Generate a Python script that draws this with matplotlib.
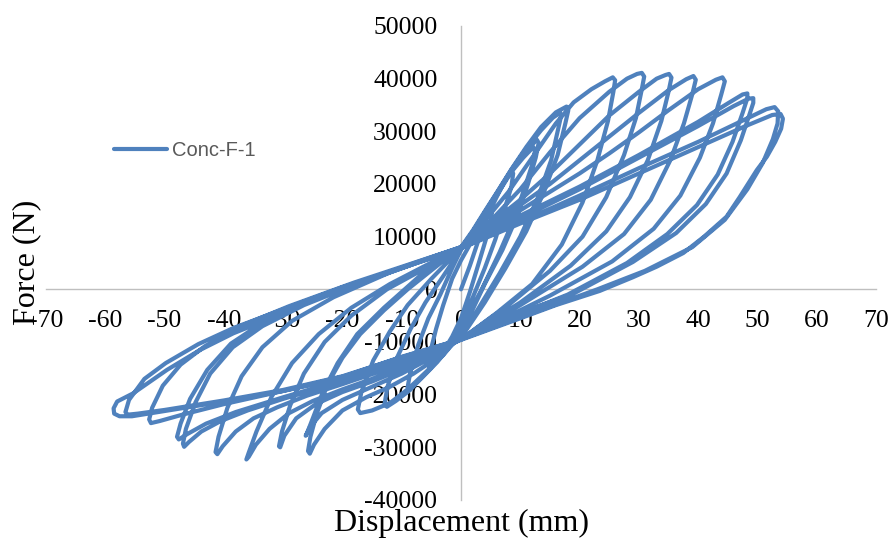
import matplotlib
matplotlib.use("Agg")
import matplotlib.pyplot as plt
import numpy as np

# ---------------- data (displacement mm, force N) per cycle ----------------
disp_01 = [0, 1.5, 3, 4.2, 5, 5.3, 5.0, 4.2, 3, 1.5, 0, -1.5, -3, -4.2, -5.2, -5.5, -5.2, -4.2, -3, -1.5, 0]
force_01 = [0, 4500, 9500, 13500, 16000, 15500, 13000, 9500, 5000, -500, -5500, -9000, -11800, -13800, -15000,
            -14500, -12000, -7500, -3000, 2000, 5500]

disp_02 = [1.5, 3, 4.5, 6, 7.5, 8.5, 8.8, 8.5, 7.3, 5.8, 4, 2, 0, -2, -4, -6, -7.6, -8.6, -9.0, -8.6, -7.2,
           -5.5, -3.5, -1.5, 0]
force_02 = [8500, 11000, 14000, 17500, 20800, 22500, 22000, 19500, 15000, 9500, 4000, -1500, -6500, -10500,
            -13500, -16000, -17800, -19100, -18600, -16000, -10500, -5500, -1000, 4000, 7500]

disp_03 = [2, 4, 6, 8.5, 10.5, 12.2, 12.5, 12.1, 10.8, 9, 6.5, 3.5, 0, -2, -4, -6.5, -9, -11, -12.5, -12.9,
           -12.4, -10.8, -8.5, -6, -3, 0]
force_03 = [10700, 14000, 17800, 22300, 25000, 27000, 26500, 24000, 19500, 13500, 7000, 0, -7500, -11000,
            -13800, -16700, -19500, -21200, -22300, -21800, -18500, -13000, -7500, -2500, 2500, 7600]

disp_04 = [2, 4, 6, 8.5, 10.5, 12.8, 13.1, 12.6, 11.3, 9.5, 7, 4, 0, -3, -6, -9, -12, -15, -17, -17.4, -16.8,
           -14.8, -12, -9, -5, 0]
force_04 = [10800, 14300, 18000, 22500, 25700, 28400, 27800, 25000, 20000, 14000, 7500, 1000, -8500, -12500,
            -15800, -19000, -21600, -23000, -23500, -22800, -19500, -13500, -8000, -3000, 2000, 7800]

disp_05 = [2, 4, 6, 8.5, 11, 13.5, 15.5, 16.7, 16.9, 16.4, 15.2, 13, 10, 6.5, 3, 0, -4, -8, -12, -16, -20,
           -23, -24.8, -25.5, -25.8, -25.4, -24.3, -22.5, -20, -17, -13, -9, -4, 0]
force_05 = [11000, 14600, 18200, 22700, 26700, 30200, 32600, 33500, 33000, 30500, 24500, 17500, 10000, 3000,
            -3500, -9000, -13000, -16000, -18500, -20500, -23000, -26500, -29500, -31200, -30700, -28000,
            -23500, -18000, -13000, -8500, -4000, 0, 4500, 8000]

disp_06 = [2, 4, 6, 8.5, 11, 13.5, 16, 17.8, 18.1, 17.6, 16.3, 14, 11, 7.5, 4, 0, -5, -10, -15, -20, -23.5,
           -25.5, -26.2, -26.0, -25.0, -23.3, -20.8, -17.5, -13, -7, 0]
force_06 = [11200, 14800, 18300, 22800, 27000, 30800, 33600, 34700, 34000, 31500, 25500, 18500, 11000, 4000,
            -2500, -9200, -13000, -16000, -18500, -21000, -23500, -26200, -27800, -27400, -24500, -19500,
            -14000, -8500, -3500, 2500, 8000]

disp_07 = [4, 8, 12, 16, 19, 22, 24.3, 25.6, 26.0, 25.7, 24.8, 23, 20.5, 17, 12, 6, 0, -5, -10, -15, -20,
           -24.5, -27.8, -29.8, -30.5, -30.7, -30.2, -28.8, -26.5, -23, -18.5, -12.5, -6, 0]
force_07 = [13000, 18500, 25000, 31500, 35500, 38000, 39500, 40250, 39700, 37500, 32000, 24500, 16500, 8500,
            1000, -4500, -9500, -12500, -15200, -17500, -19500, -21800, -24500, -27800, -30000, -29800,
            -27000, -22000, -16000, -10000, -5000, 0, 4000, 8000]

disp_08 = [5, 10, 15, 20, 25, 28, 29.7, 30.5, 30.9, 30.5, 29.5, 27.5, 24.5, 20.5, 15, 8, 0, -5, -10, -15,
           -20, -25, -29, -32.3, -34.6, -35.8, -36.2, -35.8, -34.5, -32, -28.5, -24, -18.5, -12, -6, 0]
force_08 = [13000, 19000, 26000, 32500, 37500, 40000, 40900, 41100, 40400, 38000, 32500, 25500, 17500, 10000,
            3500, -3000, -9500, -12300, -14800, -17000, -19000, -21200, -23500, -26500, -29500, -31800,
            -32300, -31000, -27000, -20500, -14000, -8500, -3500, 1000, 4500, 8000]

disp_09 = [5, 10, 15, 20, 25, 30, 33, 34.5, 35.1, 35.5, 35.0, 33.8, 31.5, 28.5, 24.5, 18.5, 10, 0, -10,
           -20, -26, -31, -35, -38, -40.2, -41.1, -41.4, -40.9, -39.4, -37, -33.5, -28.5, -21.5, -12, 0]
force_09 = [12500, 17000, 22000, 27500, 33000, 37500, 40000, 40700, 40900, 40200, 37500, 32000, 24500, 17500,
            11000, 4500, -2500, -9500, -14200, -18000, -20200, -22400, -24500, -27000, -29800, -31300,
            -30900, -28000, -22500, -16500, -11000, -6000, -1500, 3200, 8000]

disp_10 = [5, 10, 15, 20, 25, 30, 35, 38, 39.2, 39.6, 39.0, 37.6, 35.3, 32, 27.5, 20.5, 10, 0, -10, -20,
           -30, -36, -40.5, -43.8, -45.9, -46.7, -46.9, -46.4, -44.8, -42.3, -38.5, -33.5, -26.5, -16.5, 0]
force_10 = [12000, 16000, 20000, 24500, 29000, 33500, 37800, 39900, 40500, 39800, 37000, 31500, 24500,
            17000, 10500, 4300, -3000, -9500, -14000, -17500, -20800, -23000, -25000, -27000, -29000, -29900,
            -29300, -26500, -21500, -16000, -11000, -7000, -3000, 1500, 8000]

disp_11 = [5, 10, 15, 20, 25, 30, 35, 40, 43, 44.1, 44.5, 43.9, 42.5, 40.3, 37, 32.5, 25.5, 15, 0, -10,
           -20, -30, -38, -43, -46.2, -47.6, -47.9, -47.3, -45.7, -42.8, -38.8, -33.3, -25.3, -14, 0]
force_11 = [11500, 15000, 18500, 22000, 25800, 29800, 34000, 38000, 39800, 40250, 39500, 37000, 31500, 25000,
            17800, 11500, 5300, -1200, -9500, -13800, -17200, -20500, -23300, -25500, -27500, -28500, -28000,
            -25500, -20800, -15300, -10300, -6200, -2200, 2600, 8000]

disp_12 = [10, 20, 30, 40, 45, 47.5, 48.3, 48.3, 47.5, 45.8, 43.3, 39.8, 34.8, 28, 18, 8, 0, -10, -20, -30,
           -40, -47, -50.8, -52.3, -52.6, -52.1, -50.3, -47.3, -43.2, -37.2, -29, -18, 0]
force_12 = [14000, 19500, 25500, 31800, 35300, 37000, 37200, 36300, 33500, 28000, 21800, 16000, 10500, 5000,
            -1000, -5500, -9500, -13300, -16600, -19300, -21800, -23800, -25000, -25400, -24700, -22500,
            -18300, -14300, -10800, -7000, -3200, 1300, 8000]

disp_13 = [10, 20, 30, 40, 46, 48.5, 49.3, 49.3, 48.6, 47.2, 44.8, 41.3, 36.3, 29, 19, 8, 0, -10, -20, -30,
           -40, -50, -54.5, -56.2, -56.6, -56.0, -53.4, -49.8, -44.3, -38.3, -30.2, -20, -10, 0]
force_13 = [13500, 19000, 25000, 31000, 34800, 36200, 36300, 35400, 33000, 28300, 22000, 16200, 10700, 5200,
            -800, -5300, -9500, -12900, -16500, -19100, -21100, -22900, -23600, -23800, -23300, -21000,
            -17000, -14000, -10400, -7300, -3900, 400, 4100, 7800]

disp_14 = [10, 20, 30, 40, 48, 51.5, 52.9, 53.5, 53.4, 52.6, 50.9, 48.3, 44.5, 39, 31, 23, 12, 0, -10,
           -21.5, -30, -40, -50, -55.5, -57.6, -58.5, -58.6, -58.0, -55.3, -49.6, -44, -38.4, -30, -22,
           -15, -8, 0]
force_14 = [12800, 17800, 23000, 28000, 32300, 34200, 34600, 33800, 31500, 28500, 24000, 19000, 13200, 8000,
            3500, 0, -4500, -9500, -12800, -17200, -19300, -21300, -23100, -24100, -24100, -23600, -22600,
            -21300, -19750, -15300, -11500, -8350, -4550, -500, 2000, 4800, 7800]

disp_15 = [10, 20, 30, 40, 48, 52.5, 53.9, 54.3, 54.0, 53.0, 51.6, 49.9, 47, 44.8, 41, 37.5, 33, 29, 23.4,
           16, 10, 0, -8]
force_15 = [12500, 17000, 22000, 27000, 31000, 33100, 33300, 32400, 30500, 28000, 25200, 22650, 17500,
            13800, 10000, 6900, 4300, 2300, -300, -3000, -5500, -9600, -12500]

x_ticks = [-70, -60, -50, -40, -30, -20, -10, 0, 10, 20, 30, 40, 50, 60, 70]
y_ticks = [-40000, -30000, -20000, -10000, 0, 10000, 20000, 30000, 40000, 50000]
series_label = "Conc-F-1"
x_title = "Displacement (mm)"
y_title = "Force (N)"

disp_cycles = [disp_01, disp_02, disp_03, disp_04, disp_05, disp_06, disp_07, disp_08,
               disp_09, disp_10, disp_11, disp_12, disp_13, disp_14, disp_15]
force_cycles = [force_01, force_02, force_03, force_04, force_05, force_06, force_07, force_08,
                force_09, force_10, force_11, force_12, force_13, force_14, force_15]

disp = np.concatenate([np.asarray(d, float) for d in disp_cycles])
force = np.concatenate([np.asarray(f, float) for f in force_cycles])

# ---------------- figure ----------------
W, H = 892, 540
fig = plt.figure(figsize=(W / 100, H / 100), dpi=100)
ax = fig.add_axes([46 / W, 1 - 500 / H, 830 / W, 474 / H])

line_color = "#4F81BD"
ax.plot(disp, force, color=line_color, lw=3.0, solid_joinstyle="round",
        solid_capstyle="round", label=series_label, zorder=2)

ax.set_xlim(-70, 70)
ax.set_ylim(-40000, 50000)

for s in ["top", "right"]:
    ax.spines[s].set_visible(False)
ax.spines["left"].set_position(("data", 0))
ax.spines["bottom"].set_position(("data", 0))
for s in ["left", "bottom"]:
    ax.spines[s].set_color("#BFBFBF")
    ax.spines[s].set_linewidth(1.0)
    ax.spines[s].set_zorder(1)

serif = ["Liberation Serif", "DejaVu Serif"]
ax.set_xticks(x_ticks)
ax.set_xticklabels([str(v) for v in x_ticks])
ax.set_yticks(y_ticks)
ax.set_yticklabels([str(v) for v in y_ticks])
ax.tick_params(axis="both", length=0, labelsize=18.5, labelcolor="black")
ax.tick_params(axis="x", pad=15)
ax.tick_params(axis="y", pad=17)
for lab in ax.get_xticklabels() + ax.get_yticklabels():
    lab.set_family(serif)

fig.text(461 / W, 1 - 531.5 / H, x_title, ha="center", va="baseline",
         fontsize=23, family=serif)
fig.text(27 / W, 1 - 262 / H, y_title, ha="center", va="center", rotation=90,
         fontsize=23, family=serif)

leg = ax.legend(loc="center left", bbox_to_anchor=(114 / W, 1 - 151 / H),
                bbox_transform=fig.transFigure, frameon=False, borderpad=0,
                borderaxespad=0, handlelength=2.63, handletextpad=0.25,
                prop={"family": ["Liberation Sans", "DejaVu Sans"], "size": 14.5})
for t in leg.get_texts():
    t.set_color("#595959")

fig.savefig("out.png", dpi=100, facecolor="white")
